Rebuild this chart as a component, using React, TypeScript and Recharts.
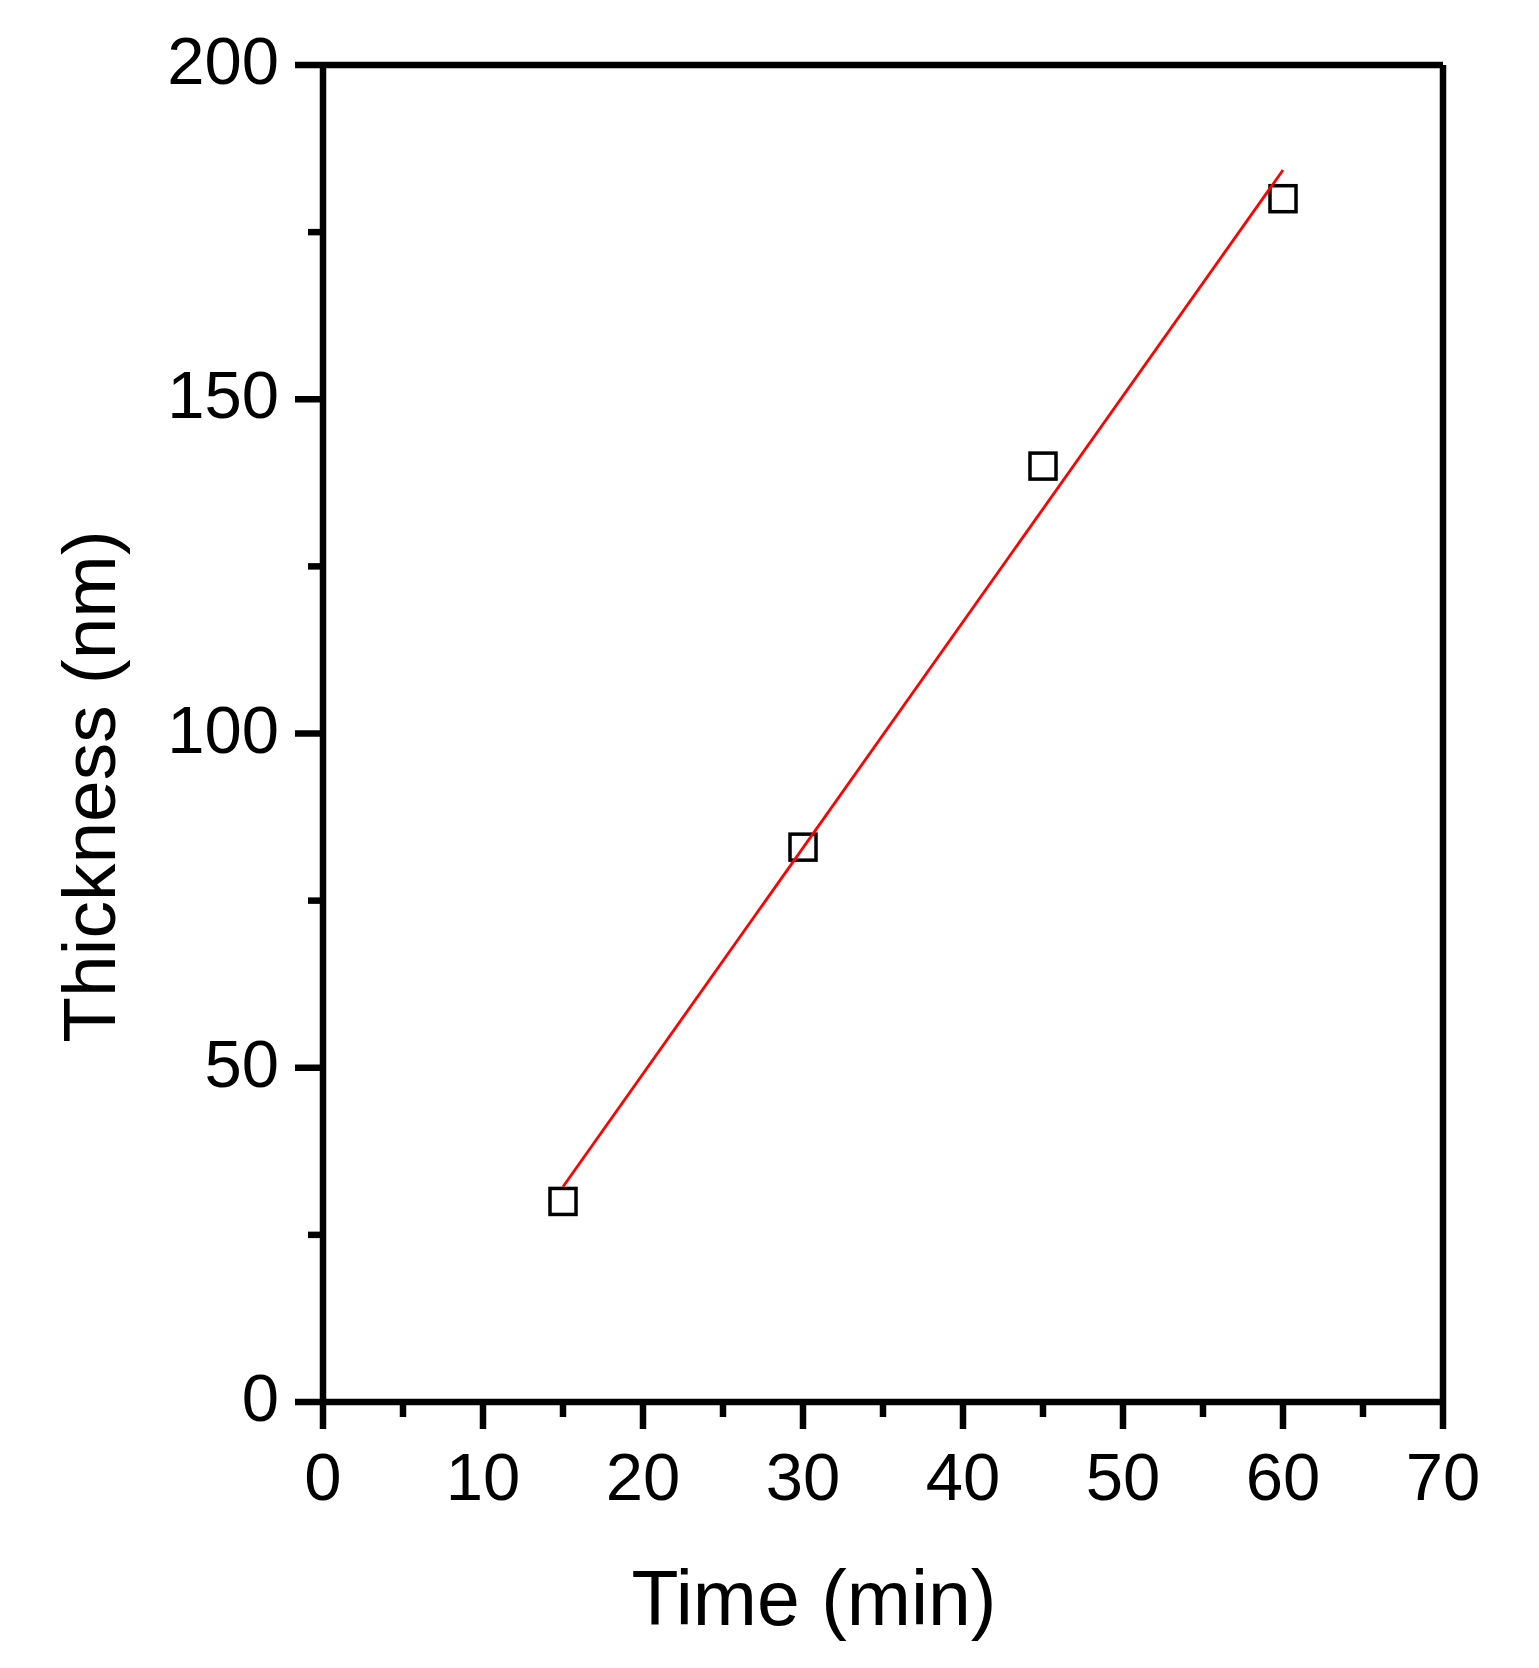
import React from 'react';
import { ScatterChart, Scatter, XAxis, YAxis, ReferenceLine } from 'recharts';

// measured points
const timeMin = [15, 30, 45, 60];
const thicknessNm = [30, 83, 140, 180];

// linear fit end points
const fitTime = [15, 60];
const fitThickness = [32.2, 184.3];

const xTicks = [0, 5, 10, 15, 20, 25, 30, 35, 40, 45, 50, 55, 60, 65, 70];
const yTicks = [0, 25, 50, 75, 100, 125, 150, 175, 200];
const xMax = 70;
const yMax = 200;

const points = timeMin.map((t, i) => ({ x: t, y: thicknessNm[i] }));
const fitLine = fitTime.map((t, i) => ({ x: t, y: fitThickness[i] }));

const FONT = '"Liberation Sans", Arial, sans-serif';
const AXIS_W = 6.5;

const XTick = (props: any) => {
  const { x, y, payload } = props;
  const major = payload.value % 10 === 0;
  return (
    <g>
      <line x1={x} x2={x} y1={y} y2={y + (major ? 27 : 15)} stroke="#000" strokeWidth={AXIS_W} />
      {major && (
        <text x={x} y={y + 98} textAnchor="middle" fontSize={67} fontFamily={FONT} fill="#000">
          {payload.value}
        </text>
      )}
    </g>
  );
};

const YTick = (props: any) => {
  const { x, y, payload } = props;
  const major = payload.value % 50 === 0;
  return (
    <g>
      <line x1={x} x2={x - (major ? 28 : 15)} y1={y} y2={y} stroke="#000" strokeWidth={AXIS_W} />
      {major && (
        <text x={x - 44} y={y + 19} textAnchor="end" fontSize={67} fontFamily={FONT} fill="#000">
          {payload.value}
        </text>
      )}
    </g>
  );
};

const Square = (props: any) => {
  const { cx, cy } = props;
  if (cx == null || cy == null) return null;
  return <rect x={cx - 13} y={cy - 13} width={26} height={26} fill="none" stroke="#000" strokeWidth={3.5} />;
};

const XLabel = (props: any) => {
  const { viewBox } = props;
  const cx = viewBox.x + viewBox.width / 2 - 69;
  return (
    <text x={cx} y={viewBox.y + 223} textAnchor="middle" fontSize={77} fontFamily={FONT} fill="#000">
      Time (min)
    </text>
  );
};

const YLabel = (props: any) => {
  const { viewBox } = props;
  const cy = viewBox.y + viewBox.height / 2 + 53;
  const bx = 115;
  return (
    <text
      x={bx}
      y={cy}
      transform={`rotate(-90, ${bx}, ${cy})`}
      textAnchor="middle"
      fontSize={75}
      fontFamily={FONT}
      fill="#000"
    >
      Thickness (nm)
    </text>
  );
};

export default function App() {
  return (
    <div style={{ position: 'absolute', left: 0, top: 0, background: '#fff' }}>
      <ScatterChart width={1539} height={1668} margin={{ top: 65, right: 96, bottom: 0, left: 0 }}>
        <XAxis
          xAxisId="main"
          type="number"
          dataKey="x"
          domain={[0, xMax]}
          ticks={xTicks}
          interval={0}
          height={266}
          tickSize={0}
          tickMargin={0}
          tickLine={false}
          tick={<XTick />}
          axisLine={{ stroke: '#000', strokeWidth: AXIS_W }}
          label={<XLabel />}
        />
        <YAxis
          yAxisId="main"
          type="number"
          dataKey="y"
          domain={[0, yMax]}
          ticks={yTicks}
          interval={0}
          width={323}
          tickSize={0}
          tickMargin={0}
          tickLine={false}
          tick={<YTick />}
          axisLine={{ stroke: '#000', strokeWidth: AXIS_W }}
          label={<YLabel />}
        />
        {/* frame: top and right sides */}
        <ReferenceLine xAxisId="main" yAxisId="main" y={yMax} stroke="#000" strokeWidth={AXIS_W} ifOverflow="visible" />
        <ReferenceLine xAxisId="main" yAxisId="main" x={xMax} stroke="#000" strokeWidth={AXIS_W} ifOverflow="visible" />
        <Scatter
          xAxisId="main"
          yAxisId="main"
          data={points}
          shape={<Square />}
          isAnimationActive={false}
        />
        <Scatter
          xAxisId="main"
          yAxisId="main"
          data={fitLine}
          line={{ stroke: '#ff0000', strokeWidth: 2.8 }}
          shape={() => <g />}
          isAnimationActive={false}
        />
      </ScatterChart>
    </div>
  );
}
